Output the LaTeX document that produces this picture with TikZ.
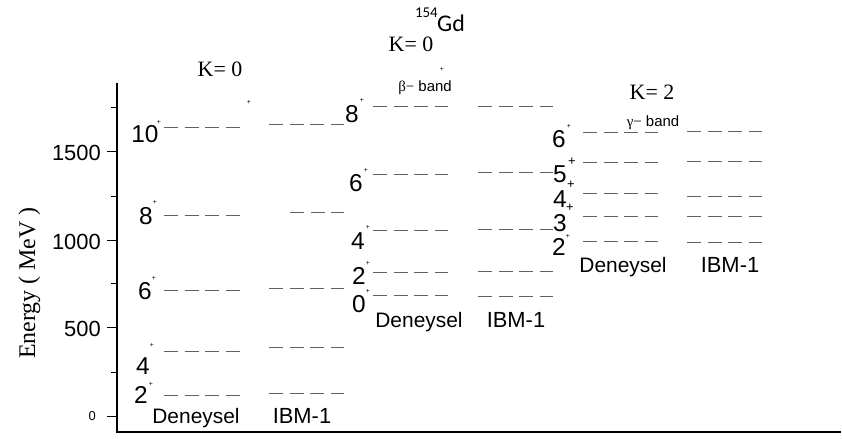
\documentclass[tikz,border=0pt]{standalone}
\usepackage{fontspec}
\setmainfont{Liberation Sans}
\newfontfamily\tmsfont{Liberation Serif}
\newfontfamily\clbfont{Carlito}
\tikzset{
  lvl/.style={draw=black!62, line width=1bp, dash pattern=on 14bp off 6.5bp},
  num/.style={font=\fontsize{24.5}{24.5}\selectfont, anchor=base, inner sep=0pt},
  lab/.style={font=\fontsize{21}{21}\selectfont, anchor=base, inner sep=0pt},
  tinyplus/.style={font=\fontsize{7}{7}\selectfont, inner sep=0pt},
  bigplus/.style={font=\fontsize{13}{13}\selectfont, inner sep=0pt},
  ktitle/.style={font=\tmsfont\fontsize{22}{22}\selectfont, anchor=base, inner sep=0pt},
  bandlab/.style={font=\fontsize{15}{15}\selectfont, anchor=base, inner sep=0pt},
  ticklab/.style={font=\fontsize{22}{22}\selectfont, anchor=east, inner sep=0pt},
  axisline/.style={draw=black, line width=1.3bp},
}
\newcommand{\lev}[4]{\coordinate (#1a) at (#2,#4); \coordinate (#1b) at (#3,#4); \draw[lvl] (#1a) -- (#1b);}
\begin{document}
\begin{tikzpicture}[x=1bp, y=-1bp]
\useasboundingbox (0,0) rectangle (842,439);
% axes
\coordinate (ytop) at (117,83);
\coordinate (orig) at (117,432);
\coordinate (xend) at (841,432);
\draw[axisline] (ytop) -- (orig) -- (xend);
\foreach \yy/\nm in {416/t0,328/t500,241/t1000,152/t1500}{
  \coordinate (\nm a) at (107,\yy); \coordinate (\nm b) at (117,\yy);
  \draw[line width=1bp] (\nm a) -- (\nm b);}
\foreach \yy/\nm in {373/m1,284/m2,197/m3,108/m4}{
  \coordinate (\nm a) at (111,\yy); \coordinate (\nm b) at (117,\yy);
  \draw[line width=1bp] (\nm a) -- (\nm b);}
\node[ticklab] (l1500) at (101,153) {1500};
\node[ticklab] (l1000) at (101,242) {1000};
\node[ticklab] (l500) at (101,329) {500};
\node[ticklab, font=\fontsize{13}{13}\selectfont] (l0) at (96,416) {0};
\node[font=\tmsfont\fontsize{24}{24}\selectfont, rotate=90, anchor=base, inner sep=0pt] (ylab) at (35,283) {Energy ( MeV )};

% titles
\node[font=\clbfont\fontsize{24}{24}\selectfont, anchor=base west, inner sep=0pt] (gd) at (437,32) {Gd};
\node[font=\clbfont\fontsize{15}{15}\selectfont, anchor=base east, inner sep=0pt] (mass) at (438,18) {154};
\node[ktitle] (k0a) at (220,77) {K= 0};
\node[ktitle] (k0b) at (411,52) {K= 0};
\node[ktitle] (k2) at (652,100) {K= 2};
\node[bandlab] (beta) at (425,92) {{\tmsfont β−} band};
\node[bandlab] (gamma) at (653,127) {{\tmsfont γ−} band};
\node[tinyplus] (s1) at (249,102) {+};
\node[tinyplus] (s2) at (442,69) {+};

% ground band
\lev{g10}{164}{240}{128} \lev{g8}{164}{240}{216} \lev{g6}{164}{240}{291} \lev{g4}{164}{240}{352} \lev{g2}{164}{240}{395}
\lev{i10}{269}{344}{125} \lev{i8}{290}{344}{213} \lev{i6}{269}{344}{289} \lev{i4}{269}{344}{348} \lev{i2}{269}{344}{393}
\node[num] (n10) at (145,143) {10}; \node[tinyplus] (p10) at (159,122) {+};
\node[num] (n8) at (146,225) {8};   \node[tinyplus] (p8) at (155,202) {+};
\node[num] (n6) at (145,300) {6};   \node[tinyplus] (p6) at (154,278) {+};
\node[num] (n4) at (143,375) {4};   \node[tinyplus] (p4) at (152,345) {+};
\node[num] (n2) at (141,403) {2};   \node[tinyplus] (p2) at (151,384) {+};
\node[lab] (dg) at (196,423) {Deneysel};
\node[lab, font=\fontsize{22}{22}\selectfont] (ig) at (302,423) {IBM-1};

% beta band
\lev{b8}{373}{448}{107} \lev{b6}{373}{448}{175} \lev{b4}{373}{448}{231} \lev{b2}{373}{448}{273} \lev{b0}{373}{448}{296}
\lev{j8}{478}{553}{107} \lev{j6}{478}{553}{173} \lev{j4}{478}{553}{230} \lev{j2}{478}{553}{272} \lev{j0}{478}{553}{297}
\node[num] (m8) at (352,123) {8}; \node[tinyplus] (q8) at (362,100) {+};
\node[num] (m6) at (356,192) {6}; \node[tinyplus] (q6) at (366,170) {+};
\node[num] (m4) at (358,250) {4}; \node[tinyplus] (q4) at (368,227) {+};
\node[num] (m2) at (359,285) {2}; \node[tinyplus] (q2) at (368,263) {+};
\node[num] (m0) at (359,313) {0}; \node[tinyplus] (q0) at (368,291) {+};
\node[lab] (db) at (419,328) {Deneysel};
\node[lab, font=\fontsize{22}{22}\selectfont] (ib) at (516,328) {IBM-1};

% gamma band
\lev{c6}{583}{658}{133} \lev{c5}{583}{658}{163} \lev{c4}{583}{658}{194} \lev{c3}{583}{658}{217} \lev{c2}{583}{658}{242}
\lev{k6}{687}{762}{132} \lev{k5}{687}{762}{162} \lev{k4}{687}{762}{197} \lev{k3}{687}{762}{217} \lev{k2}{687}{762}{243}
\node[num] (r6) at (559,148) {6}; \node[tinyplus] (u6) at (569,126) {+};
\node[num] (r5) at (560,183) {5}; \node[bigplus] (u5) at (572,162) {+};
\node[num] (r4) at (560,208) {4}; \node[bigplus] (u4) at (571,185) {+};
\node[num] (r3) at (560,232) {3}; \node[bigplus] (u3) at (570,208) {+};
\node[num] (r2) at (559,256) {2}; \node[tinyplus] (u2) at (568,236) {+};
\node[lab] (dc) at (623,273) {Deneysel};
\node[lab, font=\fontsize{22}{22}\selectfont] (ic) at (730,273) {IBM-1};
\end{tikzpicture}
\end{document}
